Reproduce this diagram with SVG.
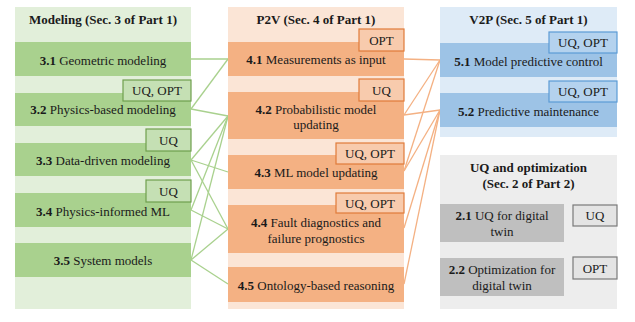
<svg xmlns="http://www.w3.org/2000/svg" width="635" height="322" viewBox="0 0 635 322">
<style>
text{font-family:"Liberation Serif","Times New Roman",serif;font-size:13px;fill:#1a1a1a;text-anchor:middle}
.b{font-weight:bold}
.gbg{fill:#e2efda}.gbx{fill:#a9d18e}.gtag{fill:#c5e0b4;stroke:#6f9f4e;stroke-width:1.2}
.obg{fill:#fbe5d6}.obx{fill:#f4b183}.otag{fill:#f8cbad;stroke:#e07b39;stroke-width:1.2}
.bbg{fill:#deebf7}.bbx{fill:#9dc3e6}.btag{fill:#b4d2ee;stroke:#5b9bd5;stroke-width:1.2}
.ybg{fill:#ededed}.ybx{fill:#bfbfbf}.ytag{fill:#e4e4e4;stroke:#7a7a7a;stroke-width:1.2}
.gl{stroke:#a9d18e;stroke-width:1.3;fill:none}
.ol{stroke:#f4b183;stroke-width:1.3;fill:none}
</style>
<rect width="635" height="322" fill="#ffffff"/>
<g id="col-modeling">
<rect class="gbg" x="15" y="7" width="176" height="302"/>
<text class="b" x="103" y="23.5">Modeling (Sec. 3 of Part 1)</text>
</g>
<g id="col-p2v">
<rect class="obg" x="228" y="7" width="176" height="302"/>
<text class="b" x="316" y="23.5">P2V (Sec. 4 of Part 1)</text>
</g>
<g id="col-v2p">
<rect class="bbg" x="440" y="7" width="177" height="130"/>
<text class="b" x="528.5" y="23.5">V2P (Sec. 5 of Part 1)</text>
</g>
<g id="col-uq">
<rect class="ybg" x="440" y="155" width="177" height="154"/>
<text class="b" x="528.5" y="171.5">UQ and optimization</text>
<text class="b" x="528.5" y="187.5">(Sec. 2 of Part 2)</text>
</g>
<g id="connectors">
<line class="gl" x1="191" y1="59" x2="228" y2="59"/>
<line class="gl" x1="191" y1="109" x2="228" y2="59"/>
<line class="gl" x1="191" y1="109" x2="228" y2="116"/>
<line class="gl" x1="191" y1="160" x2="228" y2="116"/>
<line class="gl" x1="191" y1="160" x2="228" y2="172"/>
<line class="gl" x1="191" y1="160" x2="228" y2="229"/>
<line class="gl" x1="191" y1="210" x2="228" y2="116"/>
<line class="gl" x1="191" y1="210" x2="228" y2="229"/>
<line class="gl" x1="191" y1="260" x2="228" y2="116"/>
<line class="gl" x1="191" y1="260" x2="228" y2="229"/>
<line class="gl" x1="191" y1="260" x2="228" y2="284"/>
<line class="ol" x1="404" y1="59" x2="440" y2="60"/>
<line class="ol" x1="404" y1="115" x2="440" y2="60"/>
<line class="ol" x1="404" y1="115" x2="440" y2="110"/>
<line class="ol" x1="404" y1="171" x2="440" y2="60"/>
<line class="ol" x1="404" y1="171" x2="440" y2="110"/>
<line class="ol" x1="404" y1="228" x2="440" y2="110"/>
<line class="ol" x1="404" y1="284" x2="440" y2="110"/>
</g>
<g id="n31"><rect class="gbx" x="15" y="42" width="176" height="34"/><text x="103" y="64.5"><tspan class="b">3.1</tspan> Geometric modeling</text></g>
<g id="n32"><rect class="gbx" x="15" y="93" width="176" height="33"/><text x="103" y="113.5"><tspan class="b">3.2</tspan> Physics-based modeling</text>
<rect class="gtag" x="123" y="80" width="68" height="21"/><text x="157" y="95">UQ, OPT</text></g>
<g id="n33"><rect class="gbx" x="15" y="143" width="176" height="33"/><text x="103" y="164.5"><tspan class="b">3.3</tspan> Data-driven modeling</text>
<rect class="gtag" x="146" y="129" width="45" height="22"/><text x="168.5" y="144.5">UQ</text></g>
<g id="n34"><rect class="gbx" x="15" y="193" width="176" height="34"/><text x="103" y="215.5"><tspan class="b">3.4</tspan> Physics-informed ML</text>
<rect class="gtag" x="146" y="180" width="45" height="22"/><text x="168.5" y="195.5">UQ</text></g>
<g id="n35"><rect class="gbx" x="15" y="243" width="176" height="34"/><text x="103" y="264.5"><tspan class="b">3.5</tspan> System models</text></g>
<g id="n41"><rect class="obx" x="228" y="42" width="176" height="34"/><text x="316" y="63.5"><tspan class="b">4.1</tspan> Measurements as input</text>
<rect class="otag" x="359" y="29" width="45" height="22"/><text x="381.5" y="44.5">OPT</text></g>
<g id="n42"><rect class="obx" x="228" y="92" width="176" height="47"/><text x="316" y="113.5"><tspan class="b">4.2</tspan> Probabilistic model</text><text x="316" y="128.5">updating</text>
<rect class="otag" x="359" y="79" width="45" height="22"/><text x="381.5" y="94.5">UQ</text></g>
<g id="n43"><rect class="obx" x="228" y="155" width="176" height="34"/><text x="316" y="176.5"><tspan class="b">4.3</tspan> ML model updating</text>
<rect class="otag" x="336" y="143" width="68" height="21"/><text x="370" y="158">UQ, OPT</text></g>
<g id="n44"><rect class="obx" x="228" y="205" width="176" height="48"/><text x="316" y="226.5"><tspan class="b">4.4</tspan> Fault diagnostics and</text><text x="316" y="242.5">failure prognostics</text>
<rect class="otag" x="336" y="193" width="68" height="20"/><text x="370" y="207.5">UQ, OPT</text></g>
<g id="n45"><rect class="obx" x="228" y="267" width="176" height="35"/><text x="316" y="289.5"><tspan class="b">4.5</tspan> Ontology-based reasoning</text></g>
<g id="n51"><rect class="bbx" x="440" y="43" width="177" height="34"/><text x="528.5" y="65.5"><tspan class="b">5.1</tspan> Model predictive control</text>
<rect class="btag" x="549" y="32" width="68" height="21"/><text x="583" y="47">UQ, OPT</text></g>
<g id="n52"><rect class="bbx" x="440" y="93" width="177" height="34"/><text x="528.5" y="115.5"><tspan class="b">5.2</tspan> Predictive maintenance</text>
<rect class="btag" x="549" y="81" width="68" height="21"/><text x="583" y="96">UQ, OPT</text></g>
<g id="n21"><rect class="ybx" x="440" y="204" width="124" height="38"/><text x="502" y="219.5"><tspan class="b">2.1</tspan> UQ for digital</text><text x="502" y="235.5">twin</text>
<rect class="ytag" x="573" y="205" width="44" height="21"/><text x="595" y="220">UQ</text></g>
<g id="n22"><rect class="ybx" x="440" y="258" width="124" height="38"/><text x="502" y="273.5"><tspan class="b">2.2</tspan> Optimization for</text><text x="502" y="289.5">digital twin</text>
<rect class="ytag" x="573" y="257" width="44" height="22"/><text x="595" y="272.5">OPT</text></g>
</svg>
